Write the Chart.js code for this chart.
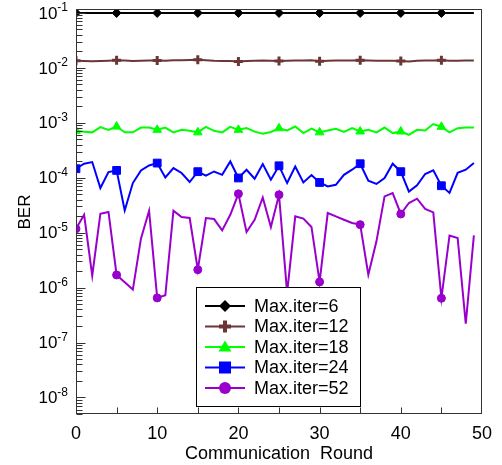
<!DOCTYPE html>
<html>
<head>
<meta charset="utf-8">
<script src="https://cdn.jsdelivr.net/npm/chart.js@4/dist/chart.umd.min.js"></script>
<style>
  html, body { margin: 0; padding: 0; background: #fff; }
  #wrap { width: 502px; height: 465px; }
</style>
</head>
<body>
<div id="wrap"><canvas id="berChart" width="502" height="465"></canvas></div>
<script>
// Communication rounds 0..49
let rounds = [];
for (let i = 0; i < 50; i++) rounds.push(i);

let seriesNames = ['Max.iter=6', 'Max.iter=12', 'Max.iter=18', 'Max.iter=24', 'Max.iter=52'];

let ber6 = [
    0.1, 0.1, 0.1, 0.1, 0.1, 0.1, 0.1, 0.1, 0.1, 0.1,
    0.1, 0.1, 0.1, 0.1, 0.1, 0.1, 0.1, 0.1, 0.1, 0.1,
    0.1, 0.1, 0.1, 0.1, 0.1, 0.1, 0.1, 0.1, 0.1, 0.1,
    0.1, 0.1, 0.1, 0.1, 0.1, 0.1, 0.1, 0.1, 0.1, 0.1,
    0.1, 0.1, 0.1, 0.1, 0.1, 0.1, 0.1, 0.1, 0.1, 0.1
];
let ber12 = [
    0.0135, 0.0133, 0.0132, 0.0134, 0.0135, 0.0137, 0.0136, 0.0134, 0.0135, 0.0136,
    0.0136, 0.0135, 0.0137, 0.0138, 0.0139, 0.0141, 0.0138, 0.0135, 0.0134, 0.0134,
    0.0131, 0.0133, 0.0135, 0.0136, 0.0135, 0.0134, 0.0135, 0.0136, 0.0136, 0.0137,
    0.0132, 0.0135, 0.0136, 0.0136, 0.0136, 0.0138, 0.0136, 0.0135, 0.0135, 0.0135,
    0.0134, 0.0131, 0.0135, 0.0136, 0.0136, 0.0137, 0.0135, 0.0135, 0.0136, 0.0136
];
let ber18 = [
    7.15e-4, 6.9e-4, 6.7e-4, 8.35e-4, 7.45e-4, 8.55e-4, 6.7e-4, 6.7e-4, 8.2e-4, 8.2e-4,
    7.45e-4, 8.2e-4, 6.7e-4, 7.45e-4, 7.15e-4, 6.7e-4, 8.45e-4, 7.15e-4, 6.7e-4, 8.45e-4,
    7.45e-4, 8.0e-4, 6.9e-4, 6.3e-4, 6.8e-4, 7.95e-4, 7.25e-4, 8.55e-4, 6.5e-4, 7.85e-4,
    6.7e-4, 7.25e-4, 7.8e-4, 6.8e-4, 8.0e-4, 6.95e-4, 7.45e-4, 6.7e-4, 8.2e-4, 6.5e-4,
    6.95e-4, 6.05e-4, 7.45e-4, 7.25e-4, 9.5e-4, 8.45e-4, 6.7e-4, 8.0e-4, 8.2e-4, 8.2e-4
];
let ber24 = [
    1.46e-4, 1.80e-4, 1.93e-4, 6.5e-5, 1.27e-4, 1.36e-4, 2.54e-5, 8.0e-5, 1.36e-4, 1.67e-4,
    1.85e-4, 1.01e-4, 1.50e-4, 1.22e-4, 8.35e-5, 1.29e-4, 1.09e-4, 1.30e-4, 1.13e-4, 1.98e-4,
    9.9e-5, 1.40e-4, 9.6e-5, 1.77e-4, 9.2e-5, 1.65e-4, 8.0e-5, 1.60e-4, 8.2e-5, 1.12e-4,
    8.2e-5, 6.95e-5, 7.45e-5, 1.13e-4, 1.40e-4, 1.80e-4, 8.8e-5, 7.7e-5, 9.9e-5, 1.80e-4,
    1.29e-4, 5.6e-5, 7.25e-5, 1.17e-4, 1.36e-4, 7.15e-5, 5.3e-5, 1.23e-4, 1.40e-4, 1.85e-4
];
let ber52 = [
    1.18e-5, 2.12e-5, 1.65e-6, 2.21e-5, 2.38e-5, 1.70e-6, 1.25e-6, 9.2e-7, 7.8e-6, 2.51e-5,
    6.5e-7, 7.25e-7, 2.51e-5, 1.93e-5, 1.85e-5, 2.12e-6, 1.85e-5, 1.77e-5, 1.10e-5, 2.12e-5,
    5.1e-5, 1.03e-5, 1.72e-5, 4.38e-5, 1.27e-5, 4.9e-5, 8.0e-7, 1.98e-5, 1.80e-5, 1.27e-5,
    1.27e-6, 2.28e-5, 1.98e-5, 1.72e-5, 1.50e-5, 1.40e-5, 1.72e-6, 6.95e-6, 4.57e-5, 5.27e-5,
    2.19e-5, 3.47e-5, 4.15e-5, 2.70e-5, 2.34e-5, 6.4e-7, 8.9e-6, 8.0e-6, 2.2e-7, 8.9e-6
];

let xTicks = [0, 10, 20, 30, 40, 50];
let yDecades = [-8, -7, -6, -5, -4, -3, -2, -1];

const FONT = '"Liberation Sans", Arial, sans-serif';

// every 5th round carries a marker
function markEvery5(r) {
    return function (c) { return c.dataIndex % 5 === 0 ? r : 0; };
}

function makeSet(label, data, color, style, r, bw) {
    return {
        label: label,
        data: data,
        borderColor: color,
        backgroundColor: color,
        pointBackgroundColor: color,
        pointBorderColor: color,
        borderWidth: 2,
        pointStyle: style,
        pointRadius: markEvery5(r),
        pointBorderWidth: bw,
        tension: 0,
        fill: false
    };
}

let datasets = [
    makeSet(seriesNames[0], ber6, '#000000', 'rectRot', 4.5, 1),
    makeSet(seriesNames[1], ber12, '#6b3636', 'cross', 4.5, 3),
    makeSet(seriesNames[2], ber18, '#00ff00', 'triangle', 5, 1),
    makeSet(seriesNames[3], ber24, '#0000ff', 'rect', 5.5, 1),
    makeSet(seriesNames[4], ber52, '#9900cc', 'circle', 4, 1)
];

// small marker painter for the legend
function drawMark(ctx, style, x, y, s, color) {
    ctx.save();
    ctx.fillStyle = color;
    ctx.strokeStyle = color;
    ctx.beginPath();
    if (style === 'rectRot') {
        ctx.moveTo(x - s, y); ctx.lineTo(x, y - s); ctx.lineTo(x + s, y); ctx.lineTo(x, y + s);
        ctx.closePath(); ctx.fill();
    } else if (style === 'cross') {
        ctx.lineWidth = 4;
        ctx.moveTo(x - s, y); ctx.lineTo(x + s, y);
        ctx.moveTo(x, y - s); ctx.lineTo(x, y + s);
        ctx.stroke();
    } else if (style === 'triangle') {
        ctx.moveTo(x - s, y + s * 0.7); ctx.lineTo(x + s, y + s * 0.7); ctx.lineTo(x, y - s);
        ctx.closePath(); ctx.fill();
    } else if (style === 'rect') {
        ctx.rect(x - s, y - s, 2 * s, 2 * s); ctx.fill();
    } else {
        ctx.arc(x, y, s, 0, Math.PI * 2); ctx.fill();
    }
    ctx.restore();
}

// frame, inward ticks, y labels with exponents, y title
const axesPlugin = {
    id: 'axesPlugin',
    afterDatasetsDraw(chart) {
        const ctx = chart.ctx;
        const a = chart.chartArea;
        const ys = chart.scales.y;
        const xs = chart.scales.x;
        ctx.save();
        ctx.strokeStyle = '#333';
        ctx.lineWidth = 1;
        ctx.strokeRect(Math.round(a.left) + 0.5, Math.round(a.top) + 0.5,
            Math.round(a.right - a.left) - 1, Math.round(a.bottom - a.top) - 1);

        ctx.beginPath();
        const x0 = Math.round(a.left) + 0.5;
        for (let d = -9; d <= -1; d++) {
            for (let m = 1; m <= 9; m++) {
                const v = m * Math.pow(10, d);
                if (v < ys.min || v > ys.max) continue;
                const py = Math.round(ys.getPixelForValue(v)) + 0.5;
                const len = m === 1 ? 9 : 6;
                ctx.moveTo(x0, py);
                ctx.lineTo(x0 + len, py);
            }
        }
        const yb = Math.round(a.bottom) - 0.5;
        for (let t = 5; t < 50; t += 5) {
            const px = Math.round(xs.getPixelForValue(t)) + 0.5;
            ctx.moveTo(px, yb);
            ctx.lineTo(px, yb - 6);
        }
        ctx.stroke();

        ctx.fillStyle = '#000';
        ctx.textBaseline = 'middle';
        yDecades.forEach(function (d) {
            const py = ys.getPixelForValue(Math.pow(10, d));
            const right = a.left - 8;
            ctx.font = '12px ' + FONT;
            ctx.textAlign = 'right';
            const sup = String(d);
            const w = ctx.measureText(sup).width;
            ctx.fillText(sup, right, py - 5);
            ctx.font = '17px ' + FONT;
            ctx.fillText('10', right - w, py + 1);
        });

        ctx.save();
        ctx.translate(25, 212);
        ctx.rotate(-Math.PI / 2);
        ctx.textAlign = 'center';
        ctx.font = '17px ' + FONT;
        ctx.fillText('BER', 0, 0);
        ctx.restore();

        // legend box
        const lx = 196, ly = 287, lw = 164, lh = 119;
        ctx.fillStyle = '#fff';
        ctx.fillRect(lx, ly, lw, lh);
        ctx.strokeStyle = '#000';
        ctx.strokeRect(lx + 0.5, ly + 0.5, lw, lh);
        const sizes = [6, 6, 6.5, 6, 6];
        chart.data.datasets.forEach(function (ds, i) {
            const ry = 306 + i * 20.5;
            ctx.strokeStyle = ds.borderColor;
            ctx.lineWidth = 2;
            ctx.beginPath();
            ctx.moveTo(205, ry);
            ctx.lineTo(245, ry);
            ctx.stroke();
            drawMark(ctx, ds.pointStyle, 225, ry, sizes[i], ds.borderColor);
            ctx.fillStyle = '#000';
            ctx.textAlign = 'left';
            ctx.font = '18px ' + FONT;
            ctx.fillText(ds.label, 254, ry + 1);
        });
        ctx.restore();
    }
};

new Chart(document.getElementById('berChart'), {
    type: 'line',
    data: {
        labels: rounds,
        datasets: datasets
    },
    options: {
        responsive: false,
        animation: false,
        events: [],
        layout: { padding: { left: 0, right: 20, top: 9, bottom: 0 } },
        plugins: {
            legend: { display: false },
            tooltip: { enabled: false }
        },
        scales: {
            x: {
                type: 'linear',
                min: 0,
                max: 50,
                afterBuildTicks: function (s) { s.ticks = xTicks.map(function (v) { return { value: v }; }); },
                afterFit: function (s) { s.height = 51; },
                grid: { display: false },
                border: { display: false },
                ticks: { color: '#000', padding: 1, maxRotation: 0, font: { family: FONT, size: 18 } },
                title: {
                    display: true,
                    text: 'Communication  Round',
                    color: '#000',
                    padding: { top: 0, bottom: 0 },
                    font: { family: FONT, size: 18 }
                }
            },
            y: {
                type: 'logarithmic',
                min: 5e-9,
                max: 0.118,
                afterFit: function (s) { s.width = 76; },
                grid: { display: false },
                border: { display: false },
                ticks: { display: false }
            }
        }
    },
    plugins: [axesPlugin]
});
</script>
</body>
</html>
